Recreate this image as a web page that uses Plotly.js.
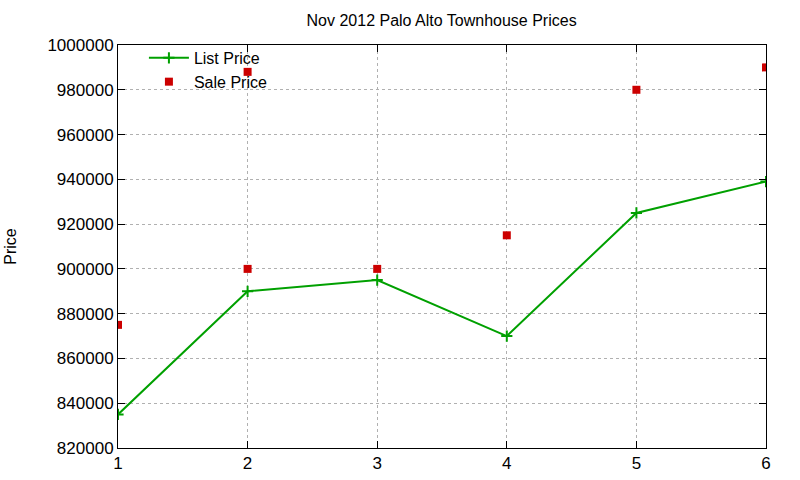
<!DOCTYPE html>
<html>
<head>
<meta charset="utf-8">
<script src="https://cdn.plot.ly/plotly-3.0.1.min.js"></script>
<style>
  html, body { margin: 0; padding: 0; background: #fff; }
  #chart { width: 800px; height: 480px; }
</style>
</head>
<body>
<div id="chart"></div>
<script>
// values
var listX = [1, 2, 3, 4, 5, 6];
var listPrice = [835000, 890000, 895000, 870000, 925000, 939000];

var saleX = [1, 2, 2, 3, 4, 5, 6];
var salePrice = [875000, 988000, 900000, 900000, 915000, 980000, 990000];

var yTicks = [820000, 840000, 860000, 880000, 900000, 920000, 940000, 960000, 980000, 1000000];

var listTrace = {
  x: listX,
  y: listPrice,
  name: 'List Price',
  type: 'scatter',
  mode: 'lines+markers',
  line: { color: '#00a000', width: 2 },
  marker: { symbol: 'cross-thin', size: 8, line: { color: '#00a000', width: 2 } }
};

var saleTrace = {
  x: saleX,
  y: salePrice,
  name: 'Sale Price',
  type: 'scatter',
  mode: 'markers',
  marker: { symbol: 'square', size: 8, color: '#cc0000' }
};

var layout = {
  width: 800,
  height: 480,
  margin: { l: 118, r: 34, t: 45, b: 32 },
  paper_bgcolor: '#fff',
  plot_bgcolor: '#fff',
  font: { family: 'Liberation Sans, Arial, sans-serif', size: 16, color: '#000' },
  title: {
    text: 'Nov 2012 Palo Alto Townhouse Prices',
    font: { size: 16 },
    x: 0.552, xanchor: 'center',
    y: 0.957, yanchor: 'middle'
  },
  xaxis: {
    range: [1, 6],
    tickvals: listX,
    tickfont: { size: 17 },
    ticks: 'inside', ticklen: 7, tickcolor: '#000',
    showline: true, linecolor: '#000', linewidth: 1, mirror: 'allticks',
    showgrid: true, gridcolor: '#b0b0b0', griddash: 'dot', gridwidth: 1,
    zeroline: false
  },
  yaxis: {
    range: [820000, 1000000],
    tickvals: yTicks,
    tickformat: 'd',
    tickfont: { size: 17 },
    ticks: 'inside', ticklen: 7, tickcolor: '#000',
    showline: true, linecolor: '#000', linewidth: 1, mirror: 'allticks',
    showgrid: true, gridcolor: '#b0b0b0', griddash: 'dot', gridwidth: 1,
    zeroline: false,
    title: { text: 'Price', font: { size: 16 }, standoff: 26 }
  },
  showlegend: true,
  legend: {
    x: 0.04, y: 1.01, xanchor: 'left', yanchor: 'top',
    bgcolor: 'rgba(0,0,0,0)',
    font: { size: 16 },
    tracegroupgap: 0,
    itemwidth: 40
  }
};

Plotly.newPlot('chart', [listTrace, saleTrace], layout, { staticPlot: true });
</script>
</body>
</html>
